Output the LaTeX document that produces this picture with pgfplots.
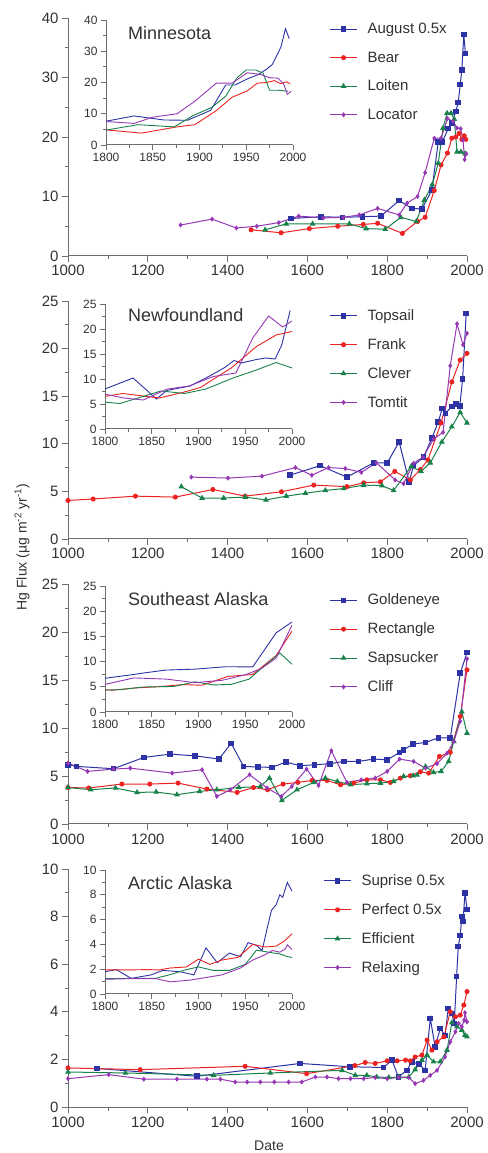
\documentclass[border=0pt]{standalone}
\usepackage{fontspec}
\setmainfont{Liberation Sans}
\usepackage{pgfplots}
\usepackage{pgfplotstable}
\pgfplotsset{compat=1.18}

\definecolor{cBlue}{RGB}{45,50,165}
\definecolor{cRed}{RGB}{235,35,35}
\definecolor{cGreen}{RGB}{25,130,75}
\definecolor{cPurple}{RGB}{150,55,180}
\definecolor{axgray}{RGB}{110,110,110}
\definecolor{txtgray}{RGB}{50,50,50}

% ---- Minnesota
\pgfplotstableread{
x y
1559 6.3
1634 6.6
1688 6.5
1738 6.6
1784 6.7
1830 9.3
1862 8.0
1887 7.9
1912 11.1
1928 19.2
1938 19.2
1953 21.4
1962 22.4
1972 24.3
1978 25.8
1983 28.8
1987 31.3
1992 37.2
1996 34.0
}\mnA
\pgfplotstableread{
x y
1459 4.4
1534 3.9
1605 4.6
1676 5.0
1740 5.3
1776 5.5
1838 3.8
1876 5.8
1895 6.5
1918 11.0
1935 15.3
1951 17.3
1962 19.8
1972 20.0
1980 20.6
1987 19.6
1993 20.2
1997 19.6
}\mnB
\pgfplotstableread{
x y
1494 4.4
1547 5.4
1613 5.4
1705 5.4
1747 4.6
1795 4.5
1834 6.5
1873 5.8
1893 9.4
1913 12.0
1928 15.6
1940 21.5
1950 24.0
1960 24.0
1968 23.0
1975 17.5
1985 17.5
1995 17.2
}\mnC
\pgfplotstableread{
x y
1282 5.2
1361 6.2
1422 4.7
1473 5.0
1528 5.6
1578 6.7
1640 6.4
1690 6.5
1730 6.9
1776 8.0
1830 6.9
1850 8.9
1876 10.0
1895 14.0
1918 19.8
1935 19.8
1951 23.1
1965 22.6
1975 21.5
1984 21.4
1990 19.5
1994 16.2
1998 17.2
}\mnD

% ---- Newfoundland
\pgfplotstableread{
x y
1556 6.7
1632 7.7
1699 6.5
1766 8.0
1800 8.0
1830 10.2
1855 6.0
1866 7.7
1891 8.6
1912 10.6
1928 12.3
1938 13.7
1946 13.2
1962 13.9
1972 14.2
1982 14.0
1989 16.8
1998 23.7
}\nfA
\pgfplotstableread{
x y
1000 4.05
1063 4.2
1169 4.5
1269 4.4
1363 5.2
1444 4.5
1535 4.96
1616 5.66
1699 5.5
1741 5.9
1783 6.0
1819 7.1
1858 6.2
1883 7.3
1902 8.3
1935 12.2
1962 16.5
1983 18.8
2000 19.5
}\nfB
\pgfplotstableread{
x y
1284 5.5
1336 4.3
1390 4.3
1444 4.4
1496 4.1
1547 4.5
1595 4.8
1645 5.1
1691 5.3
1741 5.66
1787 5.6
1816 5.1
1860 7.6
1885 7.1
1908 8.0
1937 10.2
1962 11.8
1983 13.3
2000 12.2
}\nfC
\pgfplotstableread{
x y
1309 6.5
1401 6.4
1486 6.6
1570 7.5
1611 6.7
1653 7.5
1695 7.4
1735 7.0
1773 8.0
1820 6.2
1841 5.8
1866 7.96
1890 8.6
1916 10.5
1940 11.2
1958 18.2
1975 22.6
1990 20.4
2000 21.6
}\nfD

% ---- Southeast Alaska
\pgfplotstableread{
x y
1000 6.17
1021 6.0
1114 5.76
1190 6.93
1256 7.28
1319 7.1
1378 6.76
1409 8.4
1440 6.0
1476 5.93
1511 5.9
1546 6.45
1582 6.07
1618 6.17
1656 6.28
1691 6.52
1728 6.52
1766 6.76
1800 6.69
1831 7.45
1841 7.73
1865 8.32
1896 8.5
1929 8.98
1958 8.95
1983 15.7
2000 17.86
}\seA
\pgfplotstableread{
x y
1000 3.8
1052 3.75
1135 4.16
1205 4.16
1276 4.26
1348 3.64
1424 3.29
1465 3.8
1500 3.57
1539 4.16
1576 4.33
1612 4.54
1649 4.54
1683 4.09
1716 4.26
1749 4.6
1783 4.6
1808 4.33
1833 4.78
1858 5.03
1883 5.44
1904 5.3
1931 7.04
1958 7.46
1983 11.2
2000 16.05
}\seB
\pgfplotstableread{
x y
1000 3.8
1057 3.57
1119 3.75
1173 3.29
1221 3.33
1273 3.05
1330 3.4
1373 3.57
1428 3.8
1482 3.9
1505 4.78
1536 2.46
1574 3.57
1616 4.33
1645 4.78
1675 4.43
1708 4.09
1749 4.2
1783 4.26
1816 4.43
1841 4.96
1865 5.03
1875 5.1
1896 5.99
1916 5.37
1935 5.48
1954 6.52
1967 8.6
1987 11.7
2000 9.47
}\seC
\pgfplotstableread{
x y
1000 6.35
1049 5.48
1114 5.72
1156 5.82
1261 5.3
1336 5.65
1373 2.88
1407 3.57
1455 5.13
1499 3.75
1535 2.88
1561 3.92
1598 5.72
1628 4.02
1660 7.63
1699 4.33
1735 4.6
1770 4.78
1800 5.48
1831 6.76
1866 6.52
1896 5.82
1925 6.28
1950 7.38
1967 8.6
1983 10.7
2000 17.2
}\seD

% ---- Arctic Alaska
\pgfplotstableread{
x y
1073 1.62
1323 1.29
1582 1.83
1707 1.69
1791 1.66
1812 1.97
1828 1.26
1849 1.54
1862 1.9
1880 1.8
1895 1.54
1908 3.72
1920 2.53
1933 3.3
1945 3.0
1953 4.14
1962 3.93
1968 3.5
1974 5.48
1978 6.74
1983 7.2
1987 8.0
1990 7.8
1995 9.0
2000 8.3
}\arA
\pgfplotstableread{
x y
1000 1.64
1181 1.57
1444 1.71
1598 1.4
1719 1.74
1745 1.87
1770 1.83
1800 1.94
1825 1.94
1846 1.97
1858 1.94
1870 2.1
1887 2.18
1900 2.81
1912 2.39
1925 2.74
1942 2.95
1958 4.0
1971 3.79
1983 3.86
1992 4.28
2000 4.85
}\arB
\pgfplotstableread{
x y
1000 1.47
1144 1.43
1365 1.33
1507 1.43
1687 1.54
1720 1.33
1749 1.33
1774 1.26
1804 1.24
1829 1.26
1854 1.26
1870 1.57
1887 1.97
1900 2.18
1916 1.9
1933 1.9
1950 2.39
1962 3.54
1975 3.37
1987 3.23
1995 3.02
2000 2.95
}\arC
\pgfplotstableread{
x y
1000 1.19
1102 1.36
1190 1.17
1273 1.17
1348 1.17
1382 1.17
1419 1.05
1449 1.05
1482 1.05
1517 1.05
1553 1.05
1586 1.05
1620 1.26
1649 1.26
1678 1.19
1708 1.19
1741 1.19
1770 1.24
1800 1.19
1829 1.24
1854 1.24
1870 0.98
1891 1.12
1908 1.33
1925 1.54
1945 2.1
1958 2.74
1971 3.16
1979 3.51
1987 3.37
1993 3.65
1995 3.96
2000 3.58
}\arD

\pgfplotsset{
  base/.style={
    scale only axis, axis lines=left,
    axis line style={-, axgray, line width=1pt},
    tick style={axgray, line width=0.8pt}, tick align=outside,
    minor tick num=1,
    /pgf/number format/set thousands separator={},
    /pgf/number format/assume math mode=true,
    tick label style={text=txtgray},
  },
  mainax/.style={
    base, width=399pt, height=238pt,
    xmin=1000, xmax=2000, xtick={1000,1200,...,2000},
    major tick length=6pt, minor tick length=3.5pt,
    tick label style={font=\fontsize{15}{15}\selectfont},
    legend style={draw=none, fill=none, font=\fontsize{15}{15}\selectfont,
      text=txtgray, anchor=north west, row sep=12.5pt, inner sep=0pt,
      nodes={inner sep=2pt},
      /tikz/every odd column/.append style={column sep=8pt}},
    legend cell align=left,
    legend image code/.code={\draw[mark repeat=2,mark phase=2]
      plot coordinates {(0pt,0pt) (13.5pt,0pt) (27pt,0pt)};},
  },
  inax/.style={
    base, width=187pt, height=125pt,
    xmin=1800, xmax=2000, xtick={1800,1850,...,2000},
    major tick length=5pt, minor tick length=3pt,
    tick label style={font=\fontsize{12}{12}\selectfont},
  },
  sB/.style={cBlue, line width=1pt, mark=square*, mark size=2.3pt, mark options={solid}},
  sR/.style={cRed, line width=1pt, mark=*, mark size=2pt, mark options={solid}},
  sG/.style={cGreen, line width=1pt, mark=triangle*, mark size=2.4pt, mark options={solid}},
  sP/.style={cPurple, line width=1pt, mark=diamond*, mark size=1.8pt, mark options={solid}},
  iB/.style={cBlue, line width=0.9pt, no markers},
  iR/.style={cRed, line width=0.9pt, no markers},
  iG/.style={cGreen, line width=0.9pt, no markers},
  iP/.style={cPurple, line width=0.9pt, no markers},
}

\begin{document}
\begin{tikzpicture}
\path[use as bounding box] (0pt,0pt) rectangle (487pt,1153pt);

% ===== Minnesota
\begin{axis}[mainax, at={(68pt,897pt)}, anchor=south west,
  ymin=0, ymax=40, ytick={0,10,...,40},
  legend style={at={(rel axis cs:0.655,0.987)}}]
\addplot[sB] table {\mnA};
\addplot[sR] table {\mnB};
\addplot[sG] table {\mnC};
\addplot[sP] table {\mnD};
\legend{August 0.5x, Bear, Loiten, Locator}
\end{axis}
\begin{axis}[inax, at={(106pt,1008pt)}, anchor=south west,
  ymin=0, ymax=40, ytick={0,10,...,40}]
\addplot[iB] table {\mnA};
\addplot[iR] table {\mnB};
\addplot[iG] table {\mnC};
\addplot[iP] table {\mnD};
\end{axis}

% ===== Newfoundland
\begin{axis}[mainax, at={(68pt,614pt)}, anchor=south west,
  ymin=0, ymax=25, ytick={0,5,...,25},
  legend style={at={(rel axis cs:0.655,0.973)}}]
\addplot[sB] table {\nfA};
\addplot[sR] table {\nfB};
\addplot[sG] table {\nfC};
\addplot[sP] table {\nfD};
\legend{Topsail, Frank, Clever, Tomtit}
\end{axis}
\begin{axis}[inax, at={(105pt,724pt)}, anchor=south west,
  ymin=0, ymax=25, ytick={0,5,...,25}]
\addplot[iB] table {\nfA};
\addplot[iR] table {\nfB};
\addplot[iG] table {\nfC};
\addplot[iP] table {\nfD};
\end{axis}

% ===== Southeast Alaska
\begin{axis}[mainax, at={(68pt,329pt)}, anchor=south west, height=240pt,
  ymin=0, ymax=25, ytick={0,5,...,25},
  legend style={at={(rel axis cs:0.655,0.967)}}]
\addplot[sB] table {\seA};
\addplot[sR] table {\seB};
\addplot[sG] table {\seC};
\addplot[sP] table {\seD};
\legend{Goldeneye, Rectangle, Sapsucker, Cliff}
\end{axis}
\begin{axis}[inax, at={(105pt,441pt)}, anchor=south west, height=126pt,
  ymin=0, ymax=25, ytick={0,5,...,25}]
\addplot[iB] table {\seA};
\addplot[iR] table {\seB};
\addplot[iG] table {\seC};
\addplot[iP] table {\seD};
\end{axis}

% ===== Arctic Alaska
\begin{axis}[mainax, at={(68pt,46pt)}, anchor=south west,
  ymin=0, ymax=10, ytick={0,2,...,10},
  legend style={at={(rel axis cs:0.64,0.985)}}]
\addplot[sB] table {\arA};
\addplot[sR] table {\arB};
\addplot[sG] table {\arC};
\addplot[sP] table {\arD};
\legend{Suprise 0.5x, Perfect 0.5x, Efficient, Relaxing}
\end{axis}
\begin{axis}[inax, at={(105pt,159pt)}, anchor=south west, height=124pt,
  ymin=0, ymax=10, ytick={0,2,...,10}]
\addplot[iB] table {\arA};
\addplot[iR] table {\arB};
\addplot[iG] table {\arC};
\addplot[iP] table {\arD};
\end{axis}

% titles and labels
\begin{scope}[every node/.style={inner sep=0pt, text=txtgray}]
\node[anchor=west, font=\fontsize{18}{18}\selectfont] at (128pt,1120pt) {Minnesota};
\node[anchor=west, font=\fontsize{18}{18}\selectfont] at (128pt,838pt) {Newfoundland};
\node[anchor=west, font=\fontsize{18}{18}\selectfont] at (128pt,554pt) {Southeast Alaska};
\node[anchor=west, font=\fontsize{18}{18}\selectfont] at (128pt,270pt) {Arctic Alaska};
\node[rotate=90, font=\fontsize{14}{14}\selectfont] at (22pt,606pt)
  {Hg Flux (µg m\textsuperscript{-2} yr\textsuperscript{-1})};
\node[anchor=north, font=\fontsize{14}{14}\selectfont] at (269pt,12pt) {Date};
\end{scope}
\end{tikzpicture}
\end{document}
